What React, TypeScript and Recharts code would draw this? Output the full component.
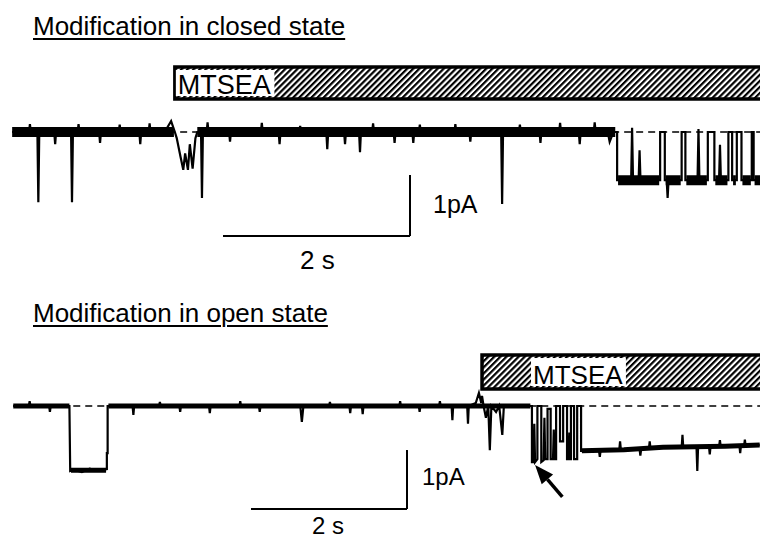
import { LineChart, Line, XAxis, YAxis, ReferenceLine, ReferenceArea } from "recharts"

type Pt = [number, number]

// time in s, current in pA (0 = closed level, negative = inward current)
const closedTrace: Pt[] = [
  [0.13, 0], [0.31, 0], [0.32, 0.13], [0.33, 0],
  [0.4, 0], [0.41, -1.15], [0.42, 0],
  [0.58, 0], [0.59, -0.2], [0.6, 0],
  [0.76, 0], [0.77, -1.15], [0.78, 0],
  [0.83, 0], [0.84, 0.13], [0.85, 0],
  [1.06, 0], [1.07, -0.18], [1.08, 0],
  [1.27, 0], [1.28, 0.12], [1.29, 0],
  [1.49, 0], [1.5, -0.2], [1.51, 0],
  [1.59, 0], [1.6, 0.14], [1.61, 0],
  [1.78, 0.05], [1.83, 0.18], [1.87, 0],
  [1.89, -0.1], [1.93, -0.4], [1.96, -0.62], [1.98, -0.35], [2.01, -0.62],
  [2.03, -0.2], [2.06, -0.6], [2.09, -0.1], [2.11, 0],
  [2.15, 0], [2.16, -1.08], [2.17, 0],
  [2.21, 0], [2.22, 0.16], [2.23, 0],
  [2.45, 0], [2.46, -0.16], [2.47, 0],
  [2.79, 0], [2.8, 0.15], [2.81, 0],
  [2.98, 0], [2.99, -0.2], [3.0, 0],
  [3.2, 0], [3.21, 0.1], [3.22, 0],
  [3.49, 0], [3.5, -0.28], [3.51, 0],
  [3.68, 0], [3.69, -0.2], [3.7, 0],
  [3.84, 0], [3.85, -0.33], [3.86, 0],
  [3.98, 0], [3.99, 0.14], [4.0, 0],
  [4.21, 0], [4.22, -0.18], [4.23, 0],
  [4.41, 0], [4.42, -0.18], [4.43, 0],
  [4.48, 0], [4.49, 0.12], [4.5, 0],
  [4.86, 0], [4.87, 0.13], [4.88, 0],
  [5.02, 0], [5.03, -0.16], [5.04, 0],
  [5.36, 0], [5.37, -1.18], [5.38, 0],
  [5.55, 0], [5.56, 0.12], [5.57, 0],
  [5.77, 0], [5.78, -0.18], [5.79, 0],
  [5.98, 0], [5.99, 0.15], [6.0, 0],
  [6.19, 0], [6.2, -0.2], [6.21, 0],
  [6.35, 0], [6.36, 0.16], [6.37, 0],
  [6.5, 0], [6.52, -0.16], [6.56, 0],
  [6.6, 0], [6.6, -0.79],
  [6.75, -0.79], [6.76, 0.07], [6.77, -0.79],
  [6.83, -0.79], [6.84, -0.3], [6.85, -0.79],
  [7.06, -0.79], [7.06, 0], [7.11, 0], [7.11, -0.79],
  [7.13, -0.79], [7.14, -1.08], [7.15, -0.79],
  [7.29, -0.79], [7.29, 0], [7.33, 0], [7.33, -0.79],
  [7.46, -0.79], [7.47, 0.05], [7.48, -0.79],
  [7.57, -0.79], [7.57, 0], [7.64, 0], [7.64, -0.79],
  [7.69, -0.79], [7.7, -0.21], [7.71, -0.79],
  [7.79, -0.79], [7.79, 0], [7.83, 0], [7.83, -0.79],
  [7.88, -0.79], [7.88, 0], [7.93, 0], [7.93, -0.79],
  [8.04, -0.79], [8.04, 0], [8.06, 0], [8.06, -0.79],
  [8.13, -0.79],
]

// stretches where the recording noise shows as a thick band
const closedNoise: Pt[][] = [
  [[0.13, 0], [1.86, 0]],
  [[2.11, 0], [6.58, 0]],
  [[6.61, -0.79], [7.05, -0.79]],
  [[7.12, -0.79], [7.28, -0.79]],
  [[7.34, -0.79], [7.56, -0.79]],
  [[7.65, -0.79], [7.78, -0.79]],
  [[7.84, -0.79], [7.87, -0.79]],
  [[7.94, -0.79], [8.03, -0.79]],
  [[8.07, -0.79], [8.13, -0.79]],
]

const openTrace: Pt[] = [
  [0.17, 0], [0.37, 0], [0.38, 0.08], [0.39, 0],
  [0.63, 0], [0.64, -0.1], [0.65, 0],
  [0.89, 0], [0.9, -1.1], [0.95, -1.08], [1.05, -1.12], [1.15, -1.06],
  [1.25, -1.1], [1.37, -1.07], [1.37, -0.8], [1.38, -0.8], [1.38, 0],
  [1.7, 0], [1.71, -0.15], [1.72, 0],
  [2.04, 0], [2.05, 0.07], [2.06, 0],
  [2.3, 0], [2.31, -0.1], [2.32, 0],
  [2.68, 0], [2.69, -0.12], [2.7, 0],
  [3.07, 0], [3.08, 0.08], [3.09, 0],
  [3.32, 0], [3.33, -0.1], [3.34, 0],
  [3.85, 0], [3.87, -0.27], [3.89, 0],
  [4.22, 0], [4.23, 0.07], [4.24, 0],
  [4.48, 0], [4.49, -0.12], [4.5, 0],
  [4.64, 0], [4.65, -0.14], [4.66, 0],
  [5.12, 0], [5.13, 0.08], [5.14, 0],
  [5.37, 0], [5.38, -0.1], [5.39, 0],
  [5.63, 0], [5.64, 0.08], [5.65, 0],
  [5.79, 0], [5.8, -0.24], [5.81, 0],
  [5.99, 0], [6.0, -0.3], [6.01, 0],
  [6.1, 0.05], [6.14, 0.22], [6.17, 0.05], [6.18, 0.17], [6.2, 0],
  [6.23, -0.2], [6.26, 0], [6.28, -0.75], [6.3, 0],
  [6.36, -0.1], [6.4, 0], [6.44, -0.49], [6.46, 0],
  [6.82, 0], [6.82, -0.95], [6.84, -0.95], [6.85, -0.3], [6.86, -0.95], [6.89, -0.9], [6.89, 0],
  [6.94, 0], [6.94, -0.95], [6.97, -0.92], [6.98, -0.2], [6.99, -0.9], [7.02, -0.9], [7.02, -0.05],
  [7.06, -0.05], [7.06, -0.9], [7.09, -0.9], [7.1, -0.4], [7.11, -0.9], [7.13, -0.9], [7.13, 0],
  [7.18, 0], [7.18, -0.6], [7.22, -0.6], [7.22, 0],
  [7.27, 0], [7.27, -0.9], [7.29, -0.9], [7.3, -0.45], [7.31, -0.9], [7.32, -0.9], [7.32, 0],
  [7.36, 0], [7.36, -0.9], [7.4, -0.9], [7.4, 0],
  [7.45, 0], [7.45, -0.76],
  [7.68, -0.76], [7.69, -0.86], [7.7, -0.76],
  [7.94, -0.74], [7.95, -0.6], [7.96, -0.74],
  [8.2, -0.73], [8.21, -0.84], [8.22, -0.73],
  [8.32, -0.72], [8.33, -0.6], [8.34, -0.72],
  [8.5, -0.7], [8.74, -0.7], [8.75, -0.49], [8.76, -0.7],
  [8.93, -0.7], [8.94, -1.1], [8.95, -0.7],
  [9.09, -0.69], [9.1, -0.82], [9.11, -0.69],
  [9.22, -0.68], [9.23, -0.58], [9.24, -0.68],
  [9.48, -0.67], [9.49, -0.8], [9.5, -0.67],
  [9.54, -0.67], [9.55, -0.57], [9.56, -0.67],
  [9.74, -0.66],
]

const openNoise: Pt[][] = [
  [[0.17, 0], [0.89, 0]],
  [[0.91, -1.09], [1.36, -1.09]],
  [[1.39, 0], [6.8, 0]],
  [[7.46, -0.76], [8.0, -0.74], [8.5, -0.7], [9.3, -0.68], [9.74, -0.66]],
]

const mtseaStart = [1.87, 6.18] // s, closed panel / open panel
const scaleBarTime = 2 // s
const scaleBarCurrent = 1 // pA
const titles = ["Modification in closed state", "Modification in open state"]

type Row = { t: number; i: number | null }

const toRows = (pts: Pt[]): Row[] => pts.map(([t, i]) => ({ t, i }))

function noiseRows(segments: Pt[][]): Row[] {
  const rows: Row[] = []
  segments.forEach((seg, k) => {
    if (k > 0) {
      const prev = segments[k - 1]
      rows.push({ t: (prev[prev.length - 1][0] + seg[0][0]) / 2, i: null })
    }
    seg.forEach(([t, i]) => rows.push({ t, i }))
  })
  return rows
}

function Arrow(props: any) {
  const { x1, y1, x2, y2 } = props
  const ang = Math.atan2(y1 - y2, x1 - x2)
  const len = 19
  const half = 7.5
  const bx = x1 - Math.cos(ang) * len
  const by = y1 - Math.sin(ang) * len
  const px = -Math.sin(ang) * half
  const py = Math.cos(ang) * half
  return (
    <g>
      <line x1={bx} y1={by} x2={x2} y2={y2} stroke="#000" strokeWidth={3.5} />
      <polygon points={`${x1},${y1} ${bx + px},${by + py} ${bx - px},${by - py}`} fill="#000" />
    </g>
  )
}

type PanelProps = {
  id: string
  trace: Pt[]
  noise: Pt[][]
  noiseWidth: number
  traceWidth: number
  height: number
  xMax: number
  yDomain: [number, number]
  start: number
  bar: [number, number]
  labelDx: number
  labelSize: number
  scaleAt: [number, number]
  arrow?: [Pt, Pt]
}

function Panel(p: PanelProps) {
  const rows = toRows(p.trace)
  const band = noiseRows(p.noise)
  const [sx, sy] = p.scaleAt
  return (
    <LineChart width={760} height={p.height} margin={{ top: 0, right: 0, bottom: 0, left: 0 }}>
      <defs>
        <pattern id={p.id} patternUnits="userSpaceOnUse" width={4.3} height={10} patternTransform="rotate(45)">
          <rect x={0} y={0} width={4.3} height={10} fill="#fff" />
          <rect x={0} y={0} width={2.2} height={10} fill="#000" />
        </pattern>
      </defs>
      <XAxis dataKey="t" type="number" domain={[0, p.xMax]} allowDataOverflow hide />
      <YAxis type="number" domain={p.yDomain} allowDataOverflow hide />
      <ReferenceArea
        x1={p.start}
        x2={p.xMax + 1}
        y1={p.bar[0]}
        y2={p.bar[1]}
        fill={`url(#${p.id})`}
        fillOpacity={1}
        stroke="#000"
        strokeWidth={3.5}
        ifOverflow="visible"
        label={{
          content: (lp: any) => {
            const vb = lp.viewBox
            const w = p.labelSize * 3.65
            return (
              <g>
                <rect x={vb.x + p.labelDx - 2} y={vb.y + 3} width={w} height={vb.height - 6} fill="#fff" />
                <text
                  x={vb.x + p.labelDx}
                  y={vb.y + vb.height - 5}
                  fontSize={p.labelSize}
                  fontFamily="'Liberation Sans', Arial, sans-serif"
                  fill="#000"
                >
                  MTSEA
                </text>
              </g>
            )
          },
        }}
      />
      <ReferenceLine
        segment={[{ x: p.trace[0][0], y: 0 }, { x: p.xMax, y: 0 }]}
        stroke="#000"
        strokeWidth={1.6}
        strokeDasharray="7 5"
        ifOverflow="visible"
      />
      <Line
        data={band}
        dataKey="i"
        stroke="#000"
        strokeWidth={p.noiseWidth}
        strokeLinecap="butt"
        dot={false}
        activeDot={false}
        connectNulls={false}
        isAnimationActive={false}
      />
      <Line
        data={rows}
        dataKey="i"
        stroke="#000"
        strokeWidth={p.traceWidth}
        dot={false}
        activeDot={false}
        isAnimationActive={false}
      />
      <ReferenceLine
        segment={[{ x: sx - scaleBarTime, y: sy }, { x: sx, y: sy }]}
        stroke="#000"
        strokeWidth={2}
        ifOverflow="visible"
      />
      <ReferenceLine
        segment={[{ x: sx, y: sy }, { x: sx, y: sy + scaleBarCurrent }]}
        stroke="#000"
        strokeWidth={2}
        ifOverflow="visible"
      />
      {p.arrow && (
        <ReferenceLine
          segment={[{ x: p.arrow[0][0], y: p.arrow[0][1] }, { x: p.arrow[1][0], y: p.arrow[1][1] }]}
          shape={(sp: any) => <Arrow {...sp} />}
          ifOverflow="visible"
        />
      )}
    </LineChart>
  )
}

const font = "'Liberation Sans', Arial, Helvetica, sans-serif"

const txt = (left: number, top: number, size: number, s: string, underline = false) => (
  <div
    style={{
      position: "absolute",
      left,
      top,
      fontSize: size,
      lineHeight: 1,
      whiteSpace: "nowrap",
      fontFamily: font,
      color: "#000",
      textDecoration: underline ? "underline" : "none",
      textDecorationThickness: 2,
      textUnderlineOffset: 3,
    }}
  >
    {s}
  </div>
)

export default function App() {
  return (
    <div style={{ position: "relative", width: 760, height: 538, background: "#fff", overflow: "hidden" }}>
      <style>{`body{margin:0}`}</style>
      <div style={{ position: "absolute", left: 0, top: 0 }}>
        <Panel
          id="hatchClosed"
          trace={closedTrace}
          noise={closedNoise}
          noiseWidth={10}
          traceWidth={2.2}
          height={290}
          xMax={8.128}
          yDomain={[-2.59, 2.164]}
          start={mtseaStart[0]}
          bar={[0.541, 1.066]}
          labelDx={3}
          labelSize={27}
          scaleAt={[4.385, -1.705]}
        />
      </div>
      <div style={{ position: "absolute", left: 0, top: 290 }}>
        <Panel
          id="hatchOpen"
          trace={openTrace}
          noise={openNoise}
          noiseWidth={5}
          traceWidth={2.2}
          height={248}
          xMax={9.744}
          yDomain={[-2.237, 1.966]}
          start={mtseaStart[1]}
          bar={[0.288, 0.864]}
          labelDx={51}
          labelSize={26}
          scaleAt={[5.218, -1.746]}
          arrow={[[6.86, -1.0], [7.21, -1.54]]}
        />
      </div>
      {txt(33, 13, 26, titles[0], true)}
      {txt(33, 300, 26, titles[1], true)}
      {txt(433, 192, 25, `${scaleBarCurrent}pA`)}
      {txt(300, 247, 26, `${scaleBarTime} s`)}
      {txt(422, 465, 24, `${scaleBarCurrent}pA`)}
      {txt(312, 514, 24, `${scaleBarTime} s`)}
    </div>
  )
}
